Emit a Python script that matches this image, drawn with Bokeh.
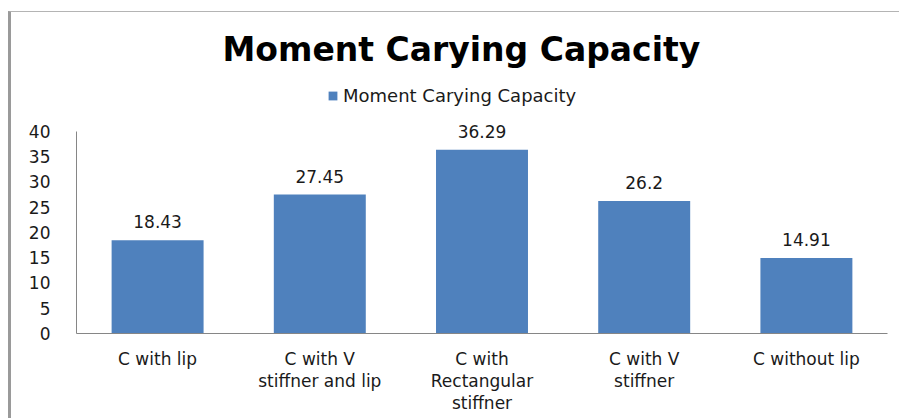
from bokeh.plotting import figure
from bokeh.models import ColumnDataSource, LabelSet, Legend, LegendItem, FixedTicker
from bokeh.core.properties import value
from bokeh.embed import file_html
from bokeh.resources import INLINE

# ---- data ----
categories = ["C with lip", "C with V\nstiffner and lip", "C with\nRectangular\nstiffner",
              "C with V\nstiffner", "C without lip"]
values = [18.43, 27.45, 36.29, 26.2, 14.91]
value_labels = ["18.43", "27.45", "36.29", "26.2", "14.91"]
series_name = "Moment Carying Capacity"
title_text = "Moment Carying Capacity"
y_ticks = [0, 5, 10, 15, 20, 25, 30, 35, 40]
y_axis_max = 40

BAR = "#4F81BD"
AXIS = "#868686"
FONT = "DejaVu Sans"

src = ColumnDataSource(dict(cat=categories, val=values, txt=value_labels))

# frame extends above the axis top so that the legend can sit inside it
p = figure(x_range=categories, y_range=(0, 50), width=891, height=407,
           output_backend="svg", toolbar_location=None,
           min_border_left=65, min_border_right=15, min_border_top=68, min_border_bottom=86)
p.styles = {"border-left": "3px solid #9a9a9a", "border-top": "1px solid #b4b4b4",
            "margin-top": "11px", "margin-left": "8px"}
p.outline_line_color = None
p.xgrid.grid_line_color = None
p.ygrid.grid_line_color = None

r = p.vbar(x="cat", top="val", width=0.567, source=src, fill_color=BAR, line_color=None)

labels = LabelSet(x="cat", y="val", text="txt", source=src, text_align="center",
                  text_baseline="alphabetic", y_offset=12, text_font=value(FONT),
                  text_font_size=value("17px"), text_color="#1a1a1a")
p.add_layout(labels)

# axes
p.yaxis.ticker = FixedTicker(ticks=y_ticks)
p.yaxis.bounds = (0, y_axis_max)
p.yaxis.major_tick_line_color = None
p.yaxis.minor_tick_line_color = None
p.yaxis.axis_line_color = AXIS
p.yaxis.major_label_standoff = 20
p.yaxis.major_label_text_font = FONT
p.yaxis.major_label_text_font_size = "17px"
p.yaxis.major_label_text_color = "#1a1a1a"

p.xaxis.major_tick_line_color = None
p.xaxis.minor_tick_line_color = None
p.xaxis.axis_line_color = AXIS
p.xaxis.major_label_standoff = 9
p.xaxis.major_label_text_font = FONT
p.xaxis.major_label_text_font_size = "17px"
p.xaxis.major_label_text_line_height = 1.12
p.xaxis.major_label_text_color = "#1a1a1a"

# title
p.title.text = title_text
p.title.align = "left"
p.title.offset = 146
p.title.standoff = 23
p.title.text_font = FONT
p.title.text_font_style = "bold"
p.title.text_font_size = "33px"
p.title.text_color = "#000000"

legend = Legend(items=[LegendItem(label=series_name, renderers=[r])],
                orientation="horizontal", location=(251, 227),
                glyph_width=11, glyph_height=11, label_standoff=5,
                label_text_font=FONT, label_text_font_size="18px",
                label_text_color="#1a1a1a", border_line_color=None,
                background_fill_alpha=0, padding=0, margin=0)
p.add_layout(legend)

open("out.html", "w").write(file_html(p, INLINE))
